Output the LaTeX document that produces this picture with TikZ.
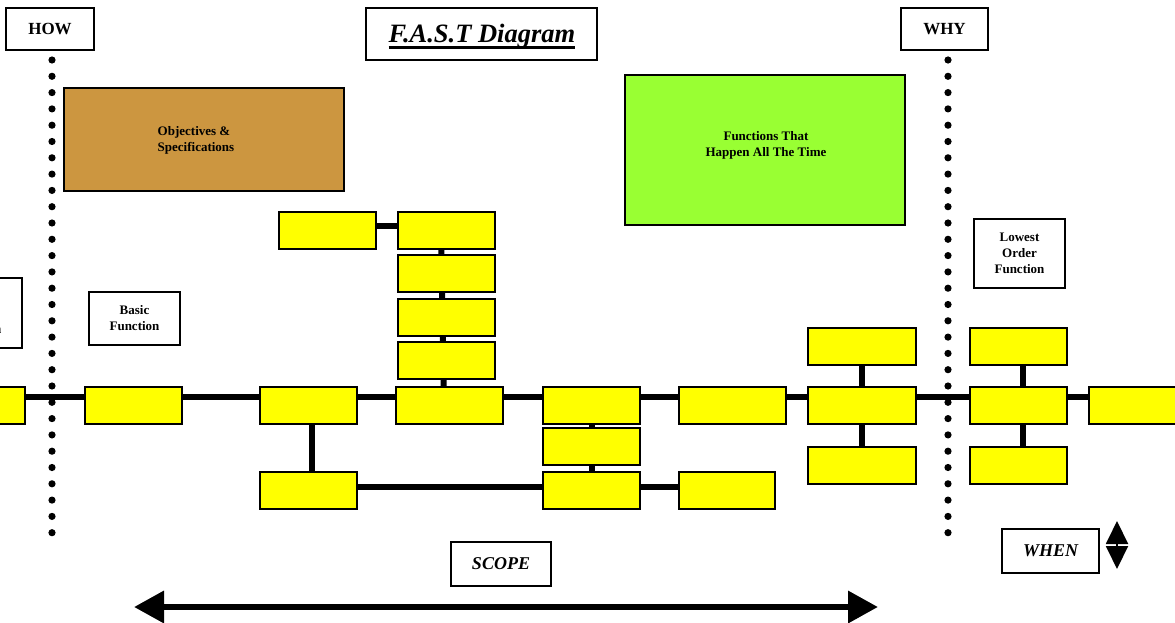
\documentclass[tikz,border=0pt]{standalone}
\usepackage{fontspec}
\setmainfont{Liberation Serif}
\usetikzlibrary{arrows.meta,backgrounds}
\definecolor{fastyellow}{HTML}{FFFF00}
\definecolor{fastbrown}{HTML}{CC9640}
\definecolor{fastgreen}{HTML}{99FF33}
\begin{document}
\begin{tikzpicture}[x=1pt,y=-1pt,
  ybox/.style={draw=black, line width=1.8pt, fill=fastyellow, minimum width=97pt, minimum height=37pt, inner sep=0pt},
  widebox/.style={minimum width=107pt},
  tbox/.style={draw=black, line width=1.6pt, fill=white, inner sep=0pt, align=center, font=\bfseries\fontsize{13}{16}\selectfont},
  bigtext/.style={font=\bfseries\itshape\fontsize{18}{20}\selectfont},
  headtext/.style={font=\bfseries\fontsize{17}{20}\selectfont},
  conn/.style={line width=6pt, black},
  smalltext/.style={font=\bfseries\fontsize{13}{16}\selectfont, inner sep=0pt}
]
\useasboundingbox (0,0) rectangle (1175,623);

% header boxes
\node[tbox, headtext, minimum width=88pt, minimum height=42pt] (how) at (50,29) {HOW};
\node[tbox, headtext, minimum width=87pt, minimum height=42pt] (why) at (944.5,29) {WHY};
\node[tbox, minimum width=231pt, minimum height=52pt] (titlebox) at (481.5,34) {};
\node[font=\bfseries\itshape\fontsize{26.5}{28}\selectfont, inner sep=0pt, anchor=base] (ttl) at (482,43) {F.A.S.T Diagram};
\draw[line width=2.8pt] ([yshift=-4.5pt]ttl.base west) -- ([yshift=-4.5pt]ttl.base east);

% big coloured boxes
\node[draw=black, line width=1.8pt, fill=fastbrown, minimum width=280pt, minimum height=103pt] (obj) at (204,139.5) {};
\node[smalltext, align=left] (objtxt) at (196,140) {Objectives \&\\Specifications};
\node[draw=black, line width=1.8pt, fill=fastgreen, minimum width=280pt, minimum height=150pt] (allt) at (765,150) {};
\node[smalltext, align=center] (alltxt) at (766,145) {Functions That\\Happen All The Time};

% label boxes
\node[tbox, minimum width=91pt, minimum height=70pt] (highest) at (-23.5,313) {Highest\\Order\\Function};
\node[tbox, minimum width=91pt, minimum height=53pt] (basic) at (134.5,318.5) {Basic\\Function};
\node[tbox, minimum width=91pt, minimum height=69pt] (lowest) at (1019.5,253.5) {Lowest\\Order\\Function};

% yellow function boxes
\node[ybox] (A) at (-23.5,405.5) {};
\node[ybox] (B) at (133.5,405.5) {};
\node[ybox] (C) at (308.5,405.5) {};
\node[ybox, widebox] (D) at (449.5,405.5) {};
\node[ybox] (S1) at (446.5,230.5) {};
\node[ybox] (S2) at (446.5,273.5) {};
\node[ybox] (S3) at (446.5,317.5) {};
\node[ybox] (S4) at (446.5,360.5) {};
\node[ybox] (T) at (327.5,230.5) {};
\node[ybox] (E) at (591.5,405.5) {};
\node[ybox] (F) at (591.5,446.5) {};
\node[ybox] (G) at (591.5,490.5) {};
\node[ybox, widebox] (H) at (732.5,405.5) {};
\node[ybox] (CB) at (308.5,490.5) {};
\node[ybox, minimum width=96pt] (I) at (727,490.5) {};
\node[ybox, minimum width=108pt] (J1) at (862,346.5) {};
\node[ybox, minimum width=108pt] (J2) at (862,405.5) {};
\node[ybox, minimum width=108pt] (J3) at (862,465.5) {};
\node[ybox] (K1) at (1018.5,346.5) {};
\node[ybox] (K2) at (1018.5,405.5) {};
\node[ybox] (K3) at (1018.5,465.5) {};
\node[ybox] (L) at (1137.5,405.5) {};

\coordinate (mainL) at (-10,397);
\coordinate (mainR) at (1185,397);

% connectors behind the boxes
\begin{scope}[on background layer]
  \fill[white] (0,0) rectangle (1175,623);
  \draw[conn] (mainL) -- (mainR);
  \draw[conn] ([xshift=-5.5pt]S1.center) -- ([xshift=-5.5pt]D.center);
  \draw[conn] ([yshift=4.5pt]T.center) -- ([yshift=4.5pt]S1.center);
  \draw[conn] ([xshift=3.5pt]C.center) -- ([xshift=3.5pt]CB.center);
  \draw[conn] (E.center) -- (G.center);
  \draw[conn] ([yshift=3.5pt]CB.center) -- ([yshift=3.5pt]I.center);
  \draw[conn] (J1.center) -- (J3.center);
  \draw[conn] ([xshift=4.5pt]K1.center) -- ([xshift=4.5pt]K3.center);
\end{scope}

% dotted HOW / WHY lines
\foreach \i in {0,...,29} {
  \fill (52,60+16.3*\i) circle (3.6pt);
  \fill (948,60+16.3*\i) circle (3.6pt);
}

% scope
\node[tbox, bigtext, minimum width=100pt, minimum height=44pt] (scope) at (501,564) {SCOPE};
\coordinate (scopeL) at (134,607);
\coordinate (scopeR) at (878,607);
\draw[line width=6.5pt, {Triangle[length=30pt,width=31pt]}-{Triangle[length=30pt,width=31pt]}] (scopeL) -- (scopeR);

% when
\node[tbox, bigtext, minimum width=97pt, minimum height=44pt] (when) at (1050.5,551) {WHEN};
\coordinate (whenU) at (1117,521);
\coordinate (whenD) at (1117,569);
\draw[line width=2pt, {Triangle[length=23pt,width=22pt]}-{Triangle[length=23pt,width=22pt]}] (whenU) -- (whenD);
\end{tikzpicture}
\end{document}
